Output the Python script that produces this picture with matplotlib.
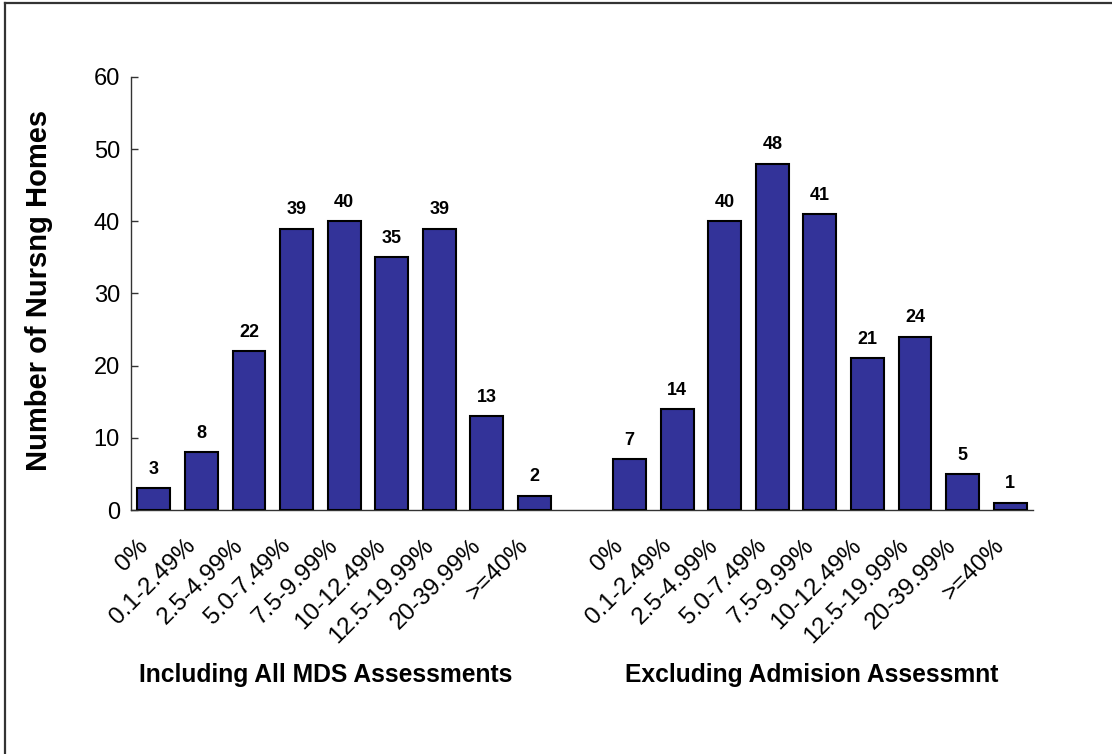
import matplotlib
matplotlib.use("Agg")
import matplotlib.pyplot as plt
import matplotlib.transforms as mtransforms
import numpy as np
from matplotlib.lines import Line2D

plt.rcParams['font.family'] = ['Liberation Sans', 'DejaVu Sans']

# Percentage bands (shared by both groups)
bands = ["0%", "0.1-2.49%", "2.5-4.99%", "5.0-7.49%", "7.5-9.99%",
         "10-12.49%", "12.5-19.99%", "20-39.99%", ">=40%"]
group_titles = ["Including All MDS Assessments", "Excluding Admision Assessmnt"]
including_all = [3, 8, 22, 39, 40, 35, 39, 13, 2]
excluding_adm = [7, 14, 40, 48, 41, 21, 24, 5, 1]
y_ticks = [0, 10, 20, 30, 40, 50, 60]

bar_color = "#333399"

fig = plt.figure(figsize=(11.12, 7.54), dpi=100)
ax = fig.add_axes([0.1178, 0.3236, 0.929 - 0.1178, 0.8979 - 0.3236])

n = len(bands)
x_left = np.arange(n)
x_right = np.arange(n) + n + 1
values = including_all + excluding_adm
xs = np.concatenate([x_left, x_right])

ax.bar(xs, values, width=0.69, color=bar_color, edgecolor="black",
       linewidth=1.5, zorder=3)
for xi, v in zip(xs, values):
    ax.annotate(str(v), (xi, v), xytext=(0, 7.5), textcoords="offset points",
                ha="center", va="bottom", fontsize=13, fontweight="bold")

ax.set_xlim(-0.48, xs[-1] + 0.48)
ax.set_ylim(0, 60)
ax.set_yticks(y_ticks)
ax.tick_params(axis="y", direction="in", length=5, width=1, labelsize=17,
               pad=8, color="#333333")
ax.set_xticks(xs)
ax.set_xticklabels(bands + bands, rotation=45, ha="right", va="center",
                   rotation_mode="anchor", fontsize=17.5)
ax.tick_params(axis="x", length=0, pad=23.5)
shift = mtransforms.ScaledTranslation(-0.095, 0, fig.dpi_scale_trans)
for lbl in ax.get_xticklabels():
    lbl.set_transform(lbl.get_transform() + shift)

for side in ("top", "right"):
    ax.spines[side].set_visible(False)
for side in ("left", "bottom"):
    ax.spines[side].set_color("#333333")
    ax.spines[side].set_linewidth(1.0)

ax.set_ylabel("Number of Nursng Homes", fontsize=21, fontweight="bold")
ax.yaxis.set_label_coords(-0.0865, 0.508)

# Group captions under each set of bars
caption_tf = mtransforms.blended_transform_factory(ax.transData, fig.transFigure)
for title, centre in zip(group_titles, [3.62, 13.83]):
    ax.text(centre, 0.0955, title, transform=caption_tf, ha="center",
            va="baseline", fontsize=17.7, fontweight="bold")

# Frame around the chart area (top and left edges)
fig.add_artist(Line2D([5 / 1112, 5 / 1112], [0, 1 - 3 / 754],
                      transform=fig.transFigure, color="#333333", linewidth=1.6))
fig.add_artist(Line2D([5 / 1112, 1], [1 - 3 / 754, 1 - 3 / 754],
                      transform=fig.transFigure, color="#333333", linewidth=1.6))

fig.savefig("out.png", dpi=100)
